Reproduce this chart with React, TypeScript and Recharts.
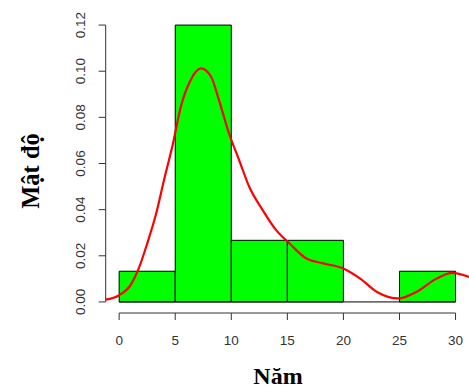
import React from 'react';
import {
  ComposedChart,
  Line,
  XAxis,
  YAxis,
  ReferenceArea,
  ReferenceLine,
} from 'recharts';

// histogram bins (years) and their densities
const binStart = [0, 5, 10, 15, 20, 25];
const binEnd = [5, 10, 15, 20, 25, 30];
const binDensity = [0.0133, 0.12, 0.0267, 0.0267, 0, 0.0133];

// kernel density curve
const curveX = [
  -1.2, 0, 1.0, 1.8, 2.5, 3.3, 4.0, 4.8, 5.5, 6.3, 7.3, 8.2, 8.9, 9.8, 10.7,
  11.6, 12.8, 14.0, 15.2, 16.7, 18.2, 20.0, 21.5, 23.0, 24.9, 26.5, 28.3, 29.7, 31.2,
];
const curveY = [
  0.001, 0.0029, 0.0072, 0.0152, 0.0253, 0.0383, 0.0528, 0.0687, 0.0846, 0.0954,
  0.1012, 0.0976, 0.0875, 0.073, 0.0615, 0.0499, 0.0398, 0.0311, 0.0253, 0.0188,
  0.0167, 0.0145, 0.0101, 0.0043, 0.0015, 0.0043, 0.0101, 0.0126, 0.0108,
];

const xTicks = [0, 5, 10, 15, 20, 25, 30];
const yTicks = [0, 0.02, 0.04, 0.06, 0.08, 0.1, 0.12];

const curve = curveX.map((x, i) => ({ x, y: curveY[i] }));

const axisColor = '#333';
const tickFont = '"Liberation Sans", Arial, sans-serif';
const titleFont = '"Liberation Serif", "Times New Roman", serif';

const XTick = ({ x, payload }: any) => (
  <text x={x} y={345} textAnchor="middle" fontFamily={tickFont} fontSize={13.5} fill="#333">
    {payload.value}
  </text>
);

const YTick = ({ y, payload }: any) => (
  <text
    transform={`translate(85, ${y}) rotate(-90)`}
    textAnchor="middle"
    fontFamily={tickFont}
    fontSize={13.5}
    fill="#333"
  >
    {Number(payload.value).toFixed(2)}
  </text>
);

export default function App() {
  return (
    <div style={{ position: 'absolute', left: 0, top: 0, background: '#fff' }}>
      <ComposedChart
        width={469}
        height={390}
        data={curve}
        margin={{ top: 14, right: 0, bottom: 0, left: 0 }}
      >
        <XAxis
          type="number"
          dataKey="x"
          domain={[-1.2, 31.2]}
          ticks={xTicks}
          allowDataOverflow
          axisLine={false}
          tickLine={{ stroke: axisColor, strokeWidth: 1 }}
          tickSize={7}
          height={77}
          tick={<XTick />}
          label={{
            content: () => (
              <text x={278} y={384} textAnchor="middle" fontFamily={titleFont} fontWeight="bold" fontSize={24} fill="#000">
                Năm
              </text>
            ),
          }}
        />
        <YAxis
          type="number"
          domain={[-0.0048, 0.1248]}
          ticks={yTicks}
          allowDataOverflow
          axisLine={false}
          tickLine={{ stroke: axisColor, strokeWidth: 1 }}
          tickSize={7}
          width={105.7}
          tick={<YTick />}
          label={{
            content: () => (
              <text
                transform="translate(39, 171) rotate(-90)"
                textAnchor="middle"
                fontFamily={titleFont}
                fontWeight="bold"
                fontSize={24.5}
                fill="#000"
              >
                Mật độ
              </text>
            ),
          }}
        />
        {binStart.map((s, i) => (
          <ReferenceArea
            key={`bin-${i}`}
            x1={s}
            x2={binEnd[i]}
            y1={0}
            y2={binDensity[i]}
            fill="#00ff00"
            fillOpacity={1}
            stroke="#000"
            strokeWidth={1}
            ifOverflow="visible"
          />
        ))}
        {/* bottom edge of the bins, visible under the empty 20-25 bin */}
        <ReferenceLine
          segment={[{ x: binStart[0], y: 0 }, { x: binEnd[binEnd.length - 1], y: 0 }]}
          stroke="#000"
          strokeWidth={1}
          ifOverflow="visible"
        />
        <ReferenceLine
          segment={[{ x: 0, y: -0.0048 }, { x: 30, y: -0.0048 }]}
          stroke={axisColor}
          strokeWidth={1}
          ifOverflow="visible"
        />
        <ReferenceLine
          segment={[{ x: -1.2, y: 0 }, { x: -1.2, y: 0.12 }]}
          stroke={axisColor}
          strokeWidth={1}
          ifOverflow="visible"
        />
        <Line
          type="monotone"
          dataKey="y"
          stroke="#ff0000"
          strokeWidth={2.2}
          dot={false}
          isAnimationActive={false}
        />
      </ComposedChart>
    </div>
  );
}
